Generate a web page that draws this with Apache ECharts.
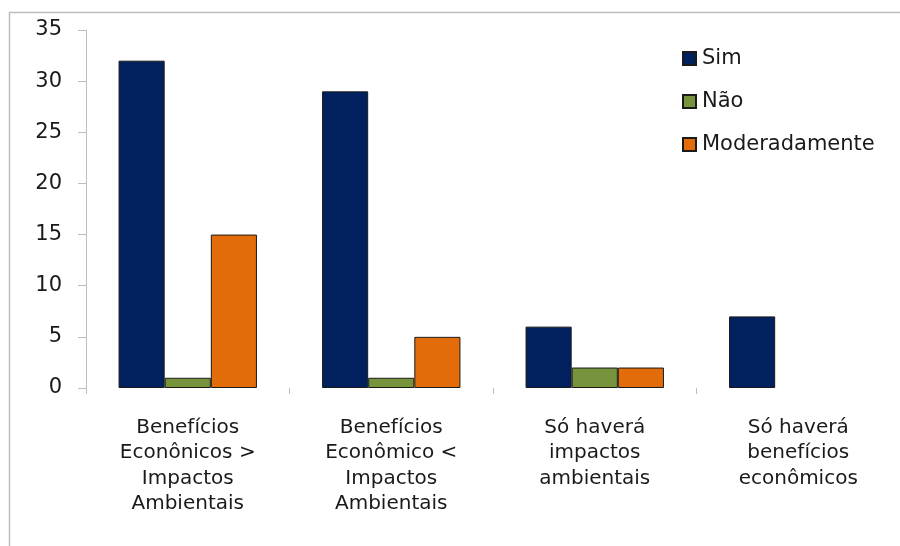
<!DOCTYPE html>
<html>
<head>
<meta charset="utf-8">
<script src="https://cdn.jsdelivr.net/npm/echarts@6/dist/echarts.min.js"></script>
<style>
  html, body { margin: 0; padding: 0; background: #fff; }
  #chart { width: 900px; height: 546px; }
</style>
</head>
<body>
<div id="chart"></div>
<script>
const categories = [
  'Benefícios\nEconônicos >\nImpactos\nAmbientais',
  'Benefícios\nEconômico <\nImpactos\nAmbientais',
  'Só haverá\nimpactos\nambientais',
  'Só haverá\nbenefícios\neconômicos',
]
const simValues = [32, 29, 6, 7]
const naoValues = [1, 1, 2, null]
const moderadamenteValues = [15, 5, 2, null]
const yTicks = { min: 0, max: 35, interval: 5 }

const font = '"DejaVu Sans", Verdana, sans-serif'

function barSeries(name, data, color) {
  return {
    name,
    type: 'bar',
    data,
    barGap: 0,
    barCategoryGap: '32%',
    itemStyle: { color, borderColor: '#1a1a1a', borderWidth: 1 },
  }
}

const chart = echarts.init(document.getElementById('chart'))

chart.setOption({
  backgroundColor: '#fff',
  animation: false,
  textStyle: { fontFamily: font },
  graphic: [
    {
      type: 'rect',
      shape: { x: 9.5, y: 12.5, width: 900, height: 540 },
      style: { fill: 'none', stroke: '#bdbdbd', lineWidth: 1.5 },
      silent: true,
    },
  ],
  legend: {
    orient: 'vertical',
    left: 677,
    top: 43,
    icon: 'rect',
    itemWidth: 13,
    itemHeight: 13,
    itemGap: 22,
    textStyle: { fontSize: 21, color: '#1a1a1a', fontFamily: font, padding: [0, 0, 0, 1] },
    data: ['Sim', 'Não', 'Moderadamente'],
  },
  grid: {
    left: 86,
    top: 30,
    right: -5,
    bottom: 158,
    containLabel: false,
  },
  xAxis: {
    type: 'category',
    data: categories,
    offset: 8,
    axisLine: { show: false },
    axisTick: { show: true, length: 6, lineStyle: { color: '#bdbdbd' } },
    axisLabel: {
      color: '#1a1a1a',
      fontSize: 20,
      lineHeight: 25.5,
      margin: 19,
      interval: 0,
      fontFamily: font,
    },
  },
  yAxis: {
    type: 'value',
    min: yTicks.min,
    max: yTicks.max,
    interval: yTicks.interval,
    axisLine: { show: true, lineStyle: { color: '#bdbdbd' } },
    axisTick: { show: true, length: 8, lineStyle: { color: '#bdbdbd' } },
    axisLabel: { color: '#1a1a1a', fontSize: 21, margin: 24, fontFamily: font },
    splitLine: { show: false },
  },
  series: [
    barSeries('Sim', simValues, '#00205e'),
    barSeries('Não', naoValues, '#77933c'),
    barSeries('Moderadamente', moderadamenteValues, '#e36c0a'),
  ],
})
</script>
</body>
</html>
